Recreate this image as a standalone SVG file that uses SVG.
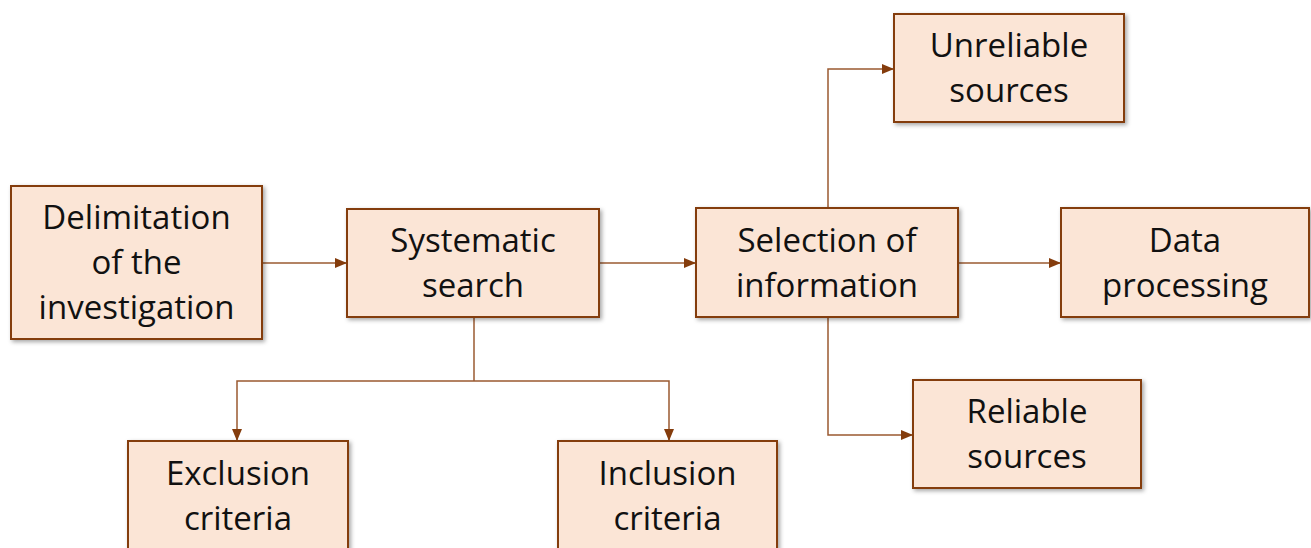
<svg xmlns="http://www.w3.org/2000/svg" width="1311" height="548" viewBox="0 0 1311 548">
<style>
.box{fill:#FBE5D6;stroke:#843C0C;stroke-width:2;filter:url(#sh)}
.lbl{font-family:"Open Sans","Liberation Sans",sans-serif;font-size:33px;fill:#111;text-anchor:middle}
.con{fill:none;stroke:#9A5A30;stroke-width:1.5}
</style>
<defs>
<filter id="sh" x="-10%" y="-10%" width="125%" height="125%">
<feDropShadow dx="2" dy="2" stdDeviation="2" flood-color="#000" flood-opacity="0.35"/>
</filter>
<marker id="ah" markerUnits="userSpaceOnUse" markerWidth="12" markerHeight="12" viewBox="0 0 12 12" refX="12" refY="6" orient="auto">
<path d="M0,1 L12,6 L0,11 z" fill="#843C0C"/>
</marker>
</defs>
<rect width="1311" height="548" fill="#fff"/>
<g id="connectors">
<path class="con" d="M262,263 H347" marker-end="url(#ah)"/>
<path class="con" d="M599,263 H696" marker-end="url(#ah)"/>
<path class="con" d="M958,263 H1061" marker-end="url(#ah)"/>
<path class="con" d="M828,208 V69 H894" marker-end="url(#ah)"/>
<path class="con" d="M828,317 V435 H913" marker-end="url(#ah)"/>
<path class="con" d="M474,317 V381"/>
<path class="con" d="M474,381 H237 V441" marker-end="url(#ah)"/>
<path class="con" d="M474,381 H669 V441" marker-end="url(#ah)"/>
</g>
<g id="delimitation">
<rect class="box" x="11" y="186" width="251" height="153"/>
<text class="lbl" x="136.5" y="229">Delimitation</text>
<text class="lbl" x="136.5" y="274">of the</text>
<text class="lbl" x="136.5" y="319">investigation</text>
</g>
<g id="systematic">
<rect class="box" x="347" y="209" width="252" height="108"/>
<text class="lbl" x="473" y="252">Systematic</text>
<text class="lbl" x="473" y="297">search</text>
</g>
<g id="selection">
<rect class="box" x="696" y="208" width="262" height="109"/>
<text class="lbl" x="827" y="252">Selection of</text>
<text class="lbl" x="827" y="297">information</text>
</g>
<g id="dataprocessing">
<rect class="box" x="1061" y="208" width="248" height="109"/>
<text class="lbl" x="1185" y="252">Data</text>
<text class="lbl" x="1185" y="297">processing</text>
</g>
<g id="unreliable">
<rect class="box" x="894" y="14" width="230" height="108"/>
<text class="lbl" x="1009" y="57">Unreliable</text>
<text class="lbl" x="1009" y="102">sources</text>
</g>
<g id="reliable">
<rect class="box" x="913" y="380" width="228" height="108"/>
<text class="lbl" x="1027" y="423">Reliable</text>
<text class="lbl" x="1027" y="468">sources</text>
</g>
<g id="exclusion">
<rect class="box" x="128" y="441" width="220" height="110"/>
<text class="lbl" x="238" y="485">Exclusion</text>
<text class="lbl" x="238" y="530">criteria</text>
</g>
<g id="inclusion">
<rect class="box" x="558" y="441" width="219" height="110"/>
<text class="lbl" x="667.5" y="485">Inclusion</text>
<text class="lbl" x="667.5" y="530">criteria</text>
</g>
</svg>
